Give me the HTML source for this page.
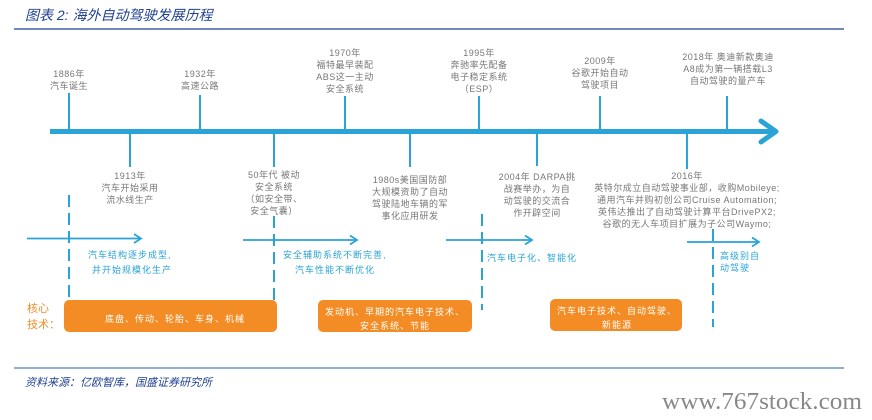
<!DOCTYPE html>
<html><head><meta charset="utf-8"><style>
html,body{margin:0;padding:0;background:#fff;width:872px;height:420px;overflow:hidden}
svg{display:block}
text{font-family:"Liberation Sans","Noto Sans CJK SC",sans-serif}
.g{fill:#777;font-size:9px;text-anchor:middle;letter-spacing:0.5px}
.b{fill:#2aa3d6;font-size:9px;letter-spacing:1px}
.w{fill:#fff;font-size:9px;text-anchor:middle;letter-spacing:1px}
</style></head><body>
<svg width="872" height="420" viewBox="0 0 872 420">
<text x="25" y="20" fill="#1f3f8f" font-size="14" font-style="italic">图表 2:  海外自动驾驶发展历程</text>
<line x1="14" y1="29" x2="844" y2="29" stroke="#1f3f8f" stroke-width="1.2"/>
<g stroke="#2aa3d6">
<line x1="50" y1="131.5" x2="774" y2="131.5" stroke-width="5"/>
<polyline points="761,121 776,131.5 761,142" fill="none" stroke-width="5" stroke-linecap="round" stroke-linejoin="round"/>
<g stroke-width="2">
<line x1="69" y1="93" x2="69" y2="129"/><line x1="200" y1="95" x2="200" y2="129"/>
<line x1="345" y1="96" x2="345" y2="129"/><line x1="479" y1="96" x2="479" y2="129"/>
<line x1="600" y1="96" x2="600" y2="129"/><line x1="727" y1="96" x2="727" y2="129"/>
<line x1="130" y1="134" x2="130" y2="167"/><line x1="274" y1="134" x2="274" y2="167"/>
<line x1="410" y1="134" x2="410" y2="167"/><line x1="537" y1="134" x2="537" y2="166"/>
<line x1="687" y1="134" x2="687" y2="169"/>
</g>
<g stroke-width="2" stroke-dasharray="12,6">
<line x1="69" y1="195" x2="69" y2="298"/><line x1="274" y1="216" x2="274" y2="300"/>
<line x1="482" y1="214" x2="482" y2="310"/><line x1="713" y1="229" x2="713" y2="327"/>
</g>
<g stroke-width="1.8" fill="none">
<line x1="27" y1="238.5" x2="140" y2="238.5"/><polyline points="134,234 141,238.5 134,243"/>
<line x1="243" y1="240" x2="356" y2="240"/><polyline points="350,235.5 357,240 350,244.5"/>
<line x1="446" y1="240" x2="531" y2="240"/><polyline points="525,235.5 532,240 525,244.5"/>
<line x1="687" y1="242" x2="758" y2="242"/><polyline points="752,237.5 759,242 752,246.5"/>
</g>
</g>
<g class="g">
<text x="69" y="77">1886年</text><text x="69" y="89">汽车诞生</text>
<text x="200" y="77">1932年</text><text x="200" y="89">高速公路</text>
<text x="345" y="56">1970年</text><text x="345" y="68">福特最早装配</text><text x="345" y="80">ABS这一主动</text><text x="345" y="92">安全系统</text>
<text x="479" y="56">1995年</text><text x="479" y="68">奔驰率先配备</text><text x="479" y="80">电子稳定系统</text><text x="479" y="92">（ESP）</text>
<text x="600" y="64">2009年</text><text x="600" y="76">谷歌开始自动</text><text x="600" y="88">驾驶项目</text>
<text x="728" y="60">2018年 奥迪新款奥迪</text><text x="728" y="72">A8成为第一辆搭载L3</text><text x="728" y="84">自动驾驶的量产车</text>
<text x="130" y="179">1913年</text><text x="130" y="191">汽车开始采用</text><text x="130" y="203">流水线生产</text>
<text x="274" y="178">50年代 被动</text><text x="274" y="190">安全系统</text><text x="274" y="202">（如安全带、</text><text x="274" y="214">安全气囊）</text>
<text x="410" y="183">1980s美国国防部</text><text x="410" y="195">大规模资助了自动</text><text x="410" y="207">驾驶陆地车辆的军</text><text x="410" y="219">事化应用研发</text>
<text x="537" y="180">2004年 DARPA挑</text><text x="537" y="192">战赛举办，为自</text><text x="537" y="204">动驾驶的交流合</text><text x="537" y="216">作开辟空间</text>
<text x="687" y="179">2016年</text><text x="687" y="191">英特尔成立自动驾驶事业部，收购Mobileye;</text><text x="687" y="203">通用汽车并购初创公司Cruise Automation;</text><text x="687" y="215">英伟达推出了自动驾驶计算平台DrivePX2;</text><text x="687" y="227">谷歌的无人车项目扩展为子公司Waymo;</text>
</g>
<g class="b">
<text x="88" y="258">汽车结构逐步成型,</text><text x="92" y="273">并开始规模化生产</text>
<text x="283" y="258">安全辅助系统不断完善,</text><text x="295" y="273">汽车性能不断优化</text>
<text x="487" y="261">汽车电子化、智能化</text>
<text x="720" y="259">高级别自</text><text x="720" y="271">动驾驶</text>
</g>
<text x="27" y="312" fill="#f28c28" font-size="11">核心</text>
<text x="27" y="328" fill="#f28c28" font-size="11">技术：</text>
<rect x="64" y="300" width="213" height="32" rx="5" fill="#f48c25"/>
<rect x="318" y="300" width="154" height="32" rx="5" fill="#f48c25"/>
<rect x="550" y="299" width="132" height="32" rx="5" fill="#f48c25"/>
<g class="w">
<text x="175" y="322">底盘、传动、轮胎、车身、机械</text>
<text x="395" y="315">发动机、早期的汽车电子技术、</text><text x="395" y="329">安全系统、节能</text>
<text x="617" y="314">汽车电子技术、自动驾驶、</text><text x="617" y="328">新能源</text>
</g>
<line x1="14" y1="368" x2="844" y2="368" stroke="#1f5fa8" stroke-width="1"/>
<text x="25" y="386" fill="#1f3f8f" font-size="11" font-style="italic">资料来源：亿欧智库，国盛证券研究所</text>
<text x="662" y="409" fill="#888" font-size="24" textLength="200" lengthAdjust="spacingAndGlyphs" style="font-family:'Liberation Serif',serif">www.767stock.com</text>
</svg>
</body></html>
